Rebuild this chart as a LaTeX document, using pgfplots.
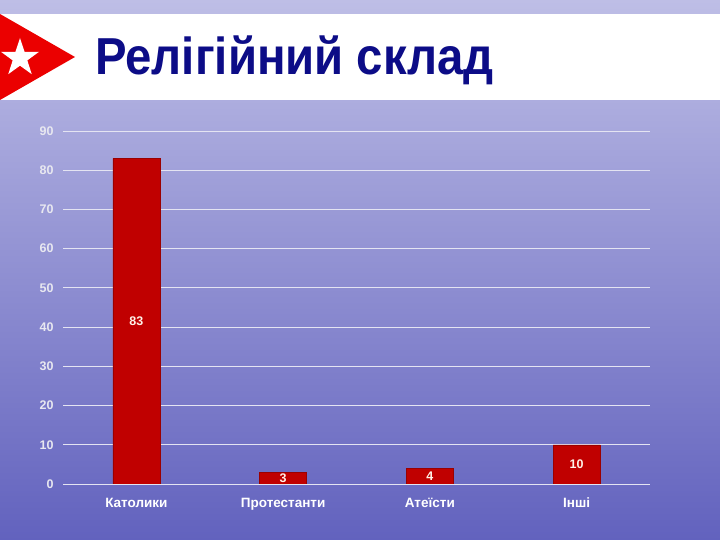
\documentclass[border=0pt]{standalone}
\usepackage{fontspec}
\setmainfont{Liberation Sans}
\usepackage{pgfplots}
\pgfplotsset{compat=1.18}
\usetikzlibrary{shapes.geometric}
\definecolor{bgtop}{RGB}{190,190,230}
\definecolor{bgbot}{RGB}{98,98,190}
\definecolor{barred}{RGB}{192,0,0}
\definecolor{titleblue}{RGB}{12,12,135}
\definecolor{gridc}{RGB}{228,228,242}
\definecolor{ticklab}{RGB}{232,232,240}
\definecolor{barlab}{RGB}{255,242,232}
\begin{document}
\begin{tikzpicture}[x=1pt,y=1pt]
\useasboundingbox (0,0) rectangle (720,540);
\shade[top color=bgtop,bottom color=bgbot] (0,0) rectangle (720,540);
\fill[white] (0,440) rectangle (720,526);
\fill[red!92!black] (0,526) -- (75,483) -- (0,440) -- cycle;
\node[star, star points=5, star point ratio=2.6, fill=white, minimum size=40pt, inner sep=0pt] at (20,482) {};
\node[anchor=base west, font=\fontsize{52}{52}\selectfont\bfseries, text=titleblue, inner sep=0pt, xscale=0.91] at (95,465)
  {Релігійний склад};
\begin{axis}[
  at={(63pt,56pt)}, anchor=south west, scale only axis,
  width=587pt, height=353pt,
  ybar, bar width=47pt,
  xmin=-0.5, xmax=3.5, ymin=0, ymax=90,
  xtick={0,1,2,3},
  xticklabels={Католики,Протестанти,Атеїсти,Інші},
  ytick={0,10,...,90},
  axis line style={draw=none},
  major tick length=0pt,
  ymajorgrids, grid style={gridc, line width=0.8pt},
  /pgf/number format/assume math mode=true,
  yticklabel style={font=\bfseries\fontsize{12.5}{12.5}\selectfont, text=ticklab, xshift=-6pt},
  xticklabel style={font=\bfseries\fontsize{13.5}{13.5}\selectfont, text=white, text height=10pt, text depth=3pt, yshift=-10pt},
  nodes near coords,
  visualization depends on=rawy \as \rawy,
  every node near coord/.append style={font=\bfseries\fontsize{12.5}{12.5}\selectfont, text=barlab, anchor=center, shift={(axis direction cs:0,-\rawy/2)}},
]
\addplot[fill=barred, draw=barred!80!black] coordinates {(0,83) (1,3) (2,4) (3,10)};
\end{axis}
\end{tikzpicture}
\end{document}
